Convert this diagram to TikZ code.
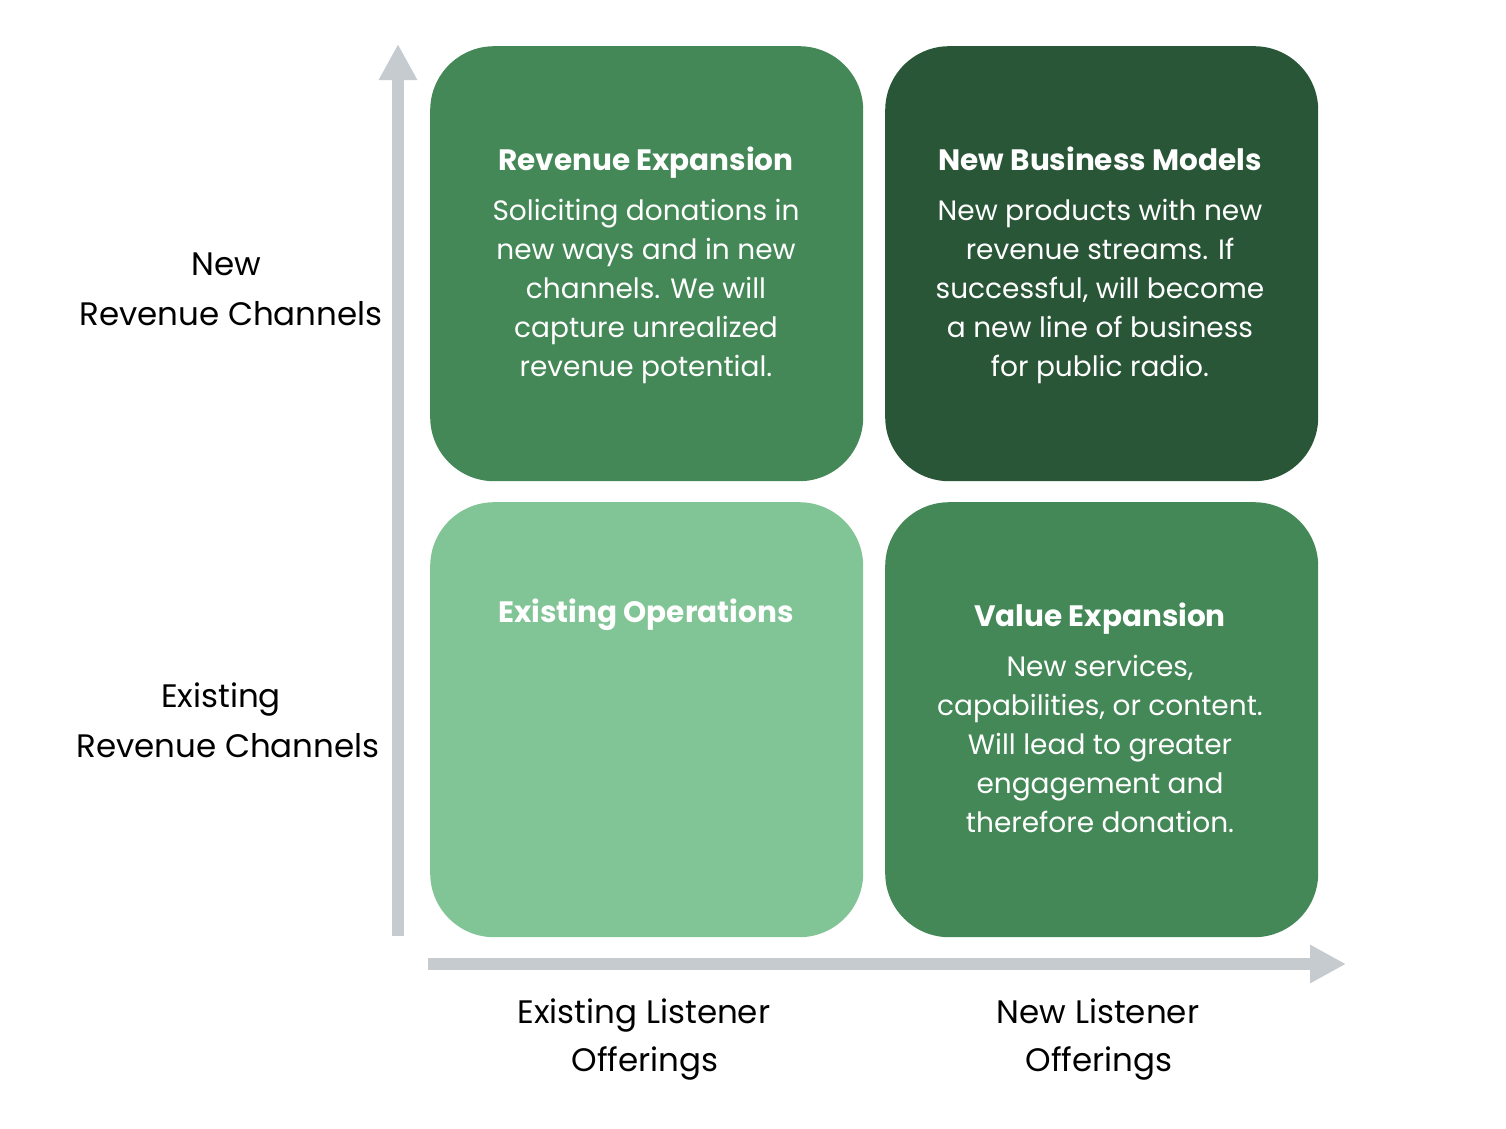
\documentclass[tikz,border=0pt]{standalone}
\usepackage{fontspec}
\setmainfont{Poppins}
\usetikzlibrary{arrows.meta}
\definecolor{midgreen}{HTML}{448857}
\definecolor{darkgreen}{HTML}{2A5638}
\definecolor{lightgreen}{HTML}{81C496}
\definecolor{axisgray}{HTML}{C5CBCF}
\begin{document}
\begin{tikzpicture}[x=1pt,y=-1pt,
  quad/.style={rounded corners=64pt, minimum width=433pt, minimum height=435pt,
    inner sep=0pt, anchor=north west, draw=none},
  heading/.style={text=white, anchor=base, font=\fontsize{29.5}{34}\selectfont\bfseries},
  body/.style={text=white, anchor=north, align=center,
    font=\fontsize{28}{39}\selectfont},
  axislabel/.style={text=black, anchor=base, align=center,
    font=\fontsize{32.5}{50}\selectfont},
  axis/.style={axisgray, line width=12pt, -{Triangle[length=36pt,width=36pt]}}]
  \useasboundingbox (0,0) rectangle (1506,1128);
  % quadrants
  \node[quad, fill=midgreen]   (re) at (430,46)  {};
  \node[quad, fill=darkgreen]  (nb) at (885,46)  {};
  \node[quad, fill=lightgreen] (eo) at (430,502) {};
  \node[quad, fill=midgreen]   (ve) at (885,502) {};
  % axes
  \coordinate (yfoot) at (398,936);
  \coordinate (ytop)  at (398,44);
  \coordinate (xfoot) at (428,964);
  \coordinate (xend)  at (1346,964);
  \draw[axis] (yfoot) -- (ytop);
  \draw[axis] (xfoot) -- (xend);
  % quadrant texts
  \node[heading] (reh) at (646,170) {Revenue Expansion};
  \node[body] (reb) at (646,196) {Soliciting donations in\\new ways and in new\\channels. We will\\capture unrealized\\revenue potential.};
  \node[heading] (nbh) at (1100,170) {New Business Models};
  \node[body] (nbb) at (1100,196) {New products with new\\revenue streams. If\\successful, will become\\a new line of business\\for public radio.};
  \node[heading] (eoh) at (646,622) {Existing Operations};
  \node[heading] (veh) at (1100,626) {Value Expansion};
  \node[body] (veb) at (1100,652) {New services,\\capabilities, or content.\\Will lead to greater\\engagement and\\therefore donation.};
  % axis labels
  \node[axislabel] (nrc1) at (226,275) {New};
  \node[axislabel] (nrc2) at (231,325) {Revenue Channels};
  \node[axislabel] (erc1) at (221,707) {Existing};
  \node[axislabel] (erc2) at (228,757) {Revenue Channels};
  \node[axislabel] (elo1) at (644,1023) {Existing Listener};
  \node[axislabel] (elo2) at (645,1071) {Offerings};
  \node[axislabel] (nlo1) at (1098,1023) {New Listener};
  \node[axislabel] (nlo2) at (1099,1071) {Offerings};
\end{tikzpicture}
\end{document}
